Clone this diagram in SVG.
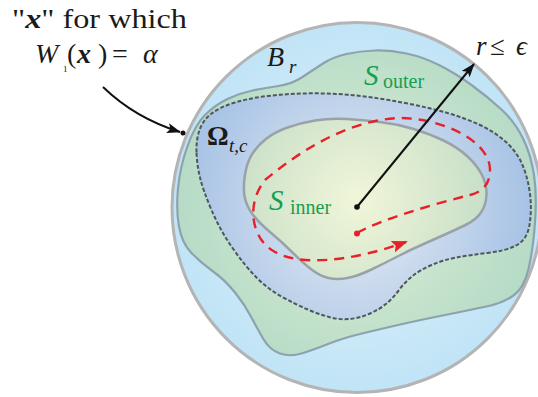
<svg xmlns="http://www.w3.org/2000/svg" width="538" height="397" viewBox="0 0 538 397">
<style>
.it{font-style:italic}
.bi{font-style:italic;font-weight:bold}
.b{font-weight:bold}
.green{fill:#14a04e}
.dash-red{fill:none;stroke:#e8202a;stroke-width:2.4;stroke-dasharray:10 7}
</style>
<defs>
<radialGradient id="gBall" cx="357" cy="207" r="186" gradientUnits="userSpaceOnUse">
<stop offset="0" stop-color="#e0f2fb"/><stop offset="1" stop-color="#c0e4f6"/>
</radialGradient>
<radialGradient id="gOuter" cx="357" cy="207" r="180" gradientUnits="userSpaceOnUse">
<stop offset="0" stop-color="#dcefd6"/><stop offset="1" stop-color="#b6dbc6"/>
</radialGradient>
<radialGradient id="gOmega" cx="357" cy="207" r="175" gradientUnits="userSpaceOnUse">
<stop offset="0" stop-color="#e8eef4"/><stop offset="1" stop-color="#a6c2e5"/>
</radialGradient>
<radialGradient id="gInner" cx="357" cy="200" r="130" gradientUnits="userSpaceOnUse">
<stop offset="0" stop-color="#f1f6d9"/><stop offset="1" stop-color="#c8dfc8"/>
</radialGradient>
<marker id="ahBlack" viewBox="0 0 14 10" refX="13" refY="5" markerWidth="14" markerHeight="10" markerUnits="userSpaceOnUse" orient="auto">
<path d="M0,0 L14,5 L0,10 L3,5 Z" fill="#111"/>
</marker>
<marker id="ahRed" viewBox="0 0 16 12" refX="14" refY="6" markerWidth="16" markerHeight="12" markerUnits="userSpaceOnUse" orient="auto">
<path d="M0,0 L16,6 L0,12 L3,6 Z" fill="#e8202a"/>
</marker>
</defs>

<g id="ball">
<circle cx="357" cy="207.5" r="185" fill="url(#gBall)" stroke="#b4b4b4" stroke-width="3"/>
</g>

<g id="s-outer">
<path d="M 178,188.5 Q 180,167 187.5,146 Q 195,125 205,115 Q 215,105 227.5,99 Q 240,93 252.5,90.5 Q 265,88 278.5,86 Q 292,84 302.5,77 Q 313,70 323,63.5 Q 333,57 346.5,54 Q 360,51 375,50.5 Q 390,50 406.5,53.5 Q 423,57 439,65 Q 455,73 471.5,85 Q 488,97 501.5,109.5 Q 515,122 523,138.5 Q 531,155 534,175 Q 537,195 535,222.5 Q 533,250 528.5,269 Q 524,288 513.5,295.5 Q 503,303 486.5,306.5 Q 470,310 445,315 Q 420,320 402.5,324 Q 385,328 364,333 Q 343,338 328,344 Q 313,350 301.5,353.5 Q 290,357 280,353.5 Q 270,350 264,340 Q 258,330 251.5,317.5 Q 245,305 235,292.5 Q 225,280 212.5,271 Q 200,262 191,252.5 Q 182,243 179,226.5 Q 176,210 178,188.5 Z" fill="url(#gOuter)" stroke="#8ea2ad" stroke-width="2.2"/>
</g>

<g id="omega">
<path d="M 196.5,152.5 Q 196,140 199.5,130 Q 203,120 211.5,113.5 Q 220,107 235,102.5 Q 250,98 267.5,96 Q 285,94 302.5,93.5 Q 320,93 337.5,94 Q 355,95 372.5,97.5 Q 390,100 410,104 Q 430,108 447.5,113 Q 465,118 480,125 Q 495,132 506,142 Q 517,152 522.5,165 Q 528,178 530,194 Q 532,210 529.5,225 Q 527,240 516,245.5 Q 505,251 487.5,253 Q 470,255 456.5,257.5 Q 443,260 431.5,265 Q 420,270 412.5,276 Q 405,282 399,290 Q 393,298 386.5,303.5 Q 380,309 370,313.5 Q 360,318 350,319 Q 340,320 329,317 Q 318,314 306.5,309 Q 295,304 281.5,296.5 Q 268,289 256.5,277.5 Q 245,266 232.5,248 Q 220,230 211.5,210 Q 203,190 200,177.5 Q 197,165 196.5,152.5 Z" fill="url(#gOmega)" stroke="#4f5660" stroke-width="2" stroke-dasharray="4 2"/>
</g>

<g id="s-inner">
<path d="M 244.5,196 Q 243,187 245,174.5 Q 247,162 252.5,153.5 Q 258,145 266.5,138.5 Q 275,132 287.5,127.5 Q 300,123 315,120.5 Q 330,118 346.5,119 Q 363,120 380,122 Q 397,124 413.5,129 Q 430,134 443.5,140.5 Q 457,147 467,156 Q 477,165 482,175 Q 487,185 486.5,195 Q 486,205 481,212.5 Q 476,220 465.5,225 Q 455,230 445,234.5 Q 435,239 422.5,244.5 Q 410,250 397.5,256.5 Q 385,263 371.5,269.5 Q 358,276 347.5,278 Q 337,280 328.5,278 Q 320,276 311.5,269.5 Q 303,263 292.5,252.5 Q 282,242 270,232 Q 258,222 252,213.5 Q 246,205 244.5,196 Z" fill="url(#gInner)" stroke="#99a2a8" stroke-width="2.5"/>
</g>

<g id="connectors">
<path id="red-path" class="dash-red" d="M357,233 C380,220 430,205 470,195 Q490,190 490,170 C490,140 440,118 400,118 C345,120 295,155 265,180 C245,205 252,240 275,252 C300,266 350,262 406,242" marker-end="url(#ahRed)"/>
<circle cx="357" cy="233.5" r="3" fill="#e8202a"/>
<line id="radius" x1="357" y1="207" x2="474" y2="64" stroke="#111" stroke-width="2" marker-end="url(#ahBlack)"/>
<circle cx="357" cy="207" r="2.8" fill="#111"/>
<path id="pointer" d="M103,87 Q135,118 180,132" fill="none" stroke="#111" stroke-width="2" marker-end="url(#ahBlack)"/>
<circle cx="183" cy="133" r="2.5" fill="#111"/>
</g>

<g id="labels" font-family="'Liberation Serif', 'DejaVu Serif', serif" fill="#1a1a1a">
<text x="12" y="28" font-size="28" textLength="175" lengthAdjust="spacingAndGlyphs">"<tspan class="bi">x</tspan>" for which</text>
<text class="it" x="35" y="63" font-size="28">W</text>
<text x="63" y="72" font-size="9">1</text>
<text x="67" y="63" font-size="28">(</text>
<text class="bi" x="77" y="63" font-size="28">x</text>
<text x="98" y="63" font-size="28">)</text>
<text x="112" y="63" font-size="28">=</text>
<text class="it" x="143" y="63" font-size="28">α</text>

<text class="it" x="267" y="66" font-size="28">B</text>
<text class="it" x="289" y="73" font-size="19">r</text>

<text class="it green" x="364" y="85" font-size="29">S</text>
<text class="green" x="383" y="88" font-size="20">outer</text>

<text class="it" x="476" y="55" font-size="27">r</text>
<text x="490" y="55" font-size="27">≤</text>
<text class="it" x="516" y="55" font-size="27">ϵ</text>

<text class="b" x="207" y="145" font-size="27">Ω</text>
<text class="it" x="229" y="152" font-size="19">t,c</text>

<text class="it green" x="269" y="210" font-size="29">S</text>
<text class="green" x="290" y="214" font-size="20">inner</text>
</g>
</svg>
